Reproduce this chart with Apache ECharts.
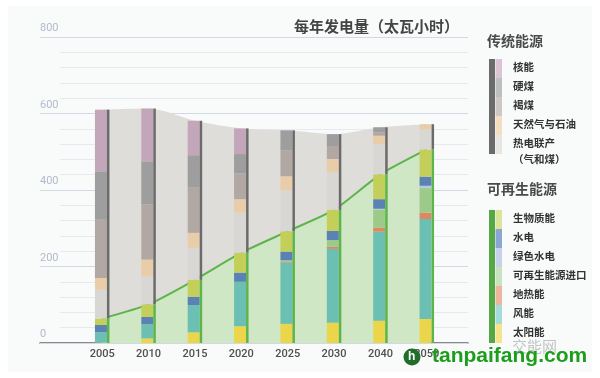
<!DOCTYPE html>
<html>
<head>
<meta charset="utf-8">
<script src="https://cdn.jsdelivr.net/npm/echarts@6/dist/echarts.min.js"></script>
<style>html,body{margin:0;padding:0;background:#fff}#c{width:600px;height:378px}</style>
</head>
<body>
<div id="c"></div>
<script>
// ---- data (TWh) ----
const years = ['2005', '2010', '2015', '2020', '2025', '2030', '2040', '2050'];
// traditional sources
const nuclear    = [161, 138, 90, 67, 0, 0, 0, 0];
const hardCoal   = [127, 113, 85, 50, 52, 33, 13, 0];
const lignite    = [152, 144, 118, 68, 68, 32, 9, 0];
const gasOil     = [31, 43, 39, 35, 37, 35, 22, 14];
const chp        = [75, 74, 84, 105, 107, 98, 79, 52];
// renewable sources
const biomass    = [17, 33, 44, 52, 53, 55, 65, 71];
const hydro      = [19, 19, 22, 24, 23, 24, 25, 24];
const greenHydro = [0, 0, 0, 0, 1, 0, 2, 6];
const imports    = [0, 0, 0, 0, 3, 17, 47, 64];
const geothermal = [0, 0, 0, 0, 2, 6, 11, 17];
const wind       = [27, 37, 71, 116, 160, 193, 233, 261];
const solar      = [1, 12, 28, 44, 50, 53, 58, 63];
// axis ticks
const yTicks = [0, 200, 400, 600, 800];
const titleText = '每年发电量（太瓦小时）';
const tradTitle = '传统能源';
const renewTitle = '可再生能源';

const tradNames = ['核能', '硬煤', '褐煤', '天然气与石油', '热电联产'];
const renewNames = ['生物质能', '水电', '绿色水电', '可再生能源进口', '地热能', '风能', '太阳能'];

// ---- styles ----
const tradColors = ['#c4a6bb', '#9e9e9e', '#b1a8a3', '#e9cca8', '#d9d7d4'];
const tradLegendColors = ['#dbc5d5', '#bebebe', '#cdc8c4', '#f4ddc1', '#e8e6e3'];
const renewColors = ['#c3cf58', '#5b82b4', '#b8c8e2', '#9ccb89', '#d98a62', '#6bbfb3', '#ebd64b'];
const renewLegendColors = ['#dde39b', '#8ba6d3', '#c6d2ea', '#c9e3c0', '#ecb59e', '#a5dbd9', '#f5e48d'];

const tradData = [nuclear, hardCoal, lignite, gasOil, chp];
const renewData = [biomass, hydro, greenHydro, imports, geothermal, wind, solar];

const renewTotal = years.map((_, i) => renewData.reduce((s, a) => s + a[i], 0));
const tradTotal = years.map((_, i) => tradData.reduce((s, a) => s + a[i], 0));

const font = '"Noto Sans CJK SC", "Noto Sans", sans-serif';

// stacked bar segments, bottom to top
const series = [];
series.push({
  type: 'line', name: 'renewArea', data: renewTotal, stack: 'area', smooth: 0.2,
  symbol: 'none', z: 2,
  lineStyle: { color: '#5db44b', width: 2 },
  areaStyle: { color: '#cfe7c5', opacity: 1 }
});
series.push({
  type: 'line', name: 'tradArea', data: tradTotal, stack: 'area', smooth: 0.3,
  symbol: 'none', z: 1,
  lineStyle: { width: 0 },
  areaStyle: { color: '#dfddda', opacity: 1 }
});
const segs = [];
for (let k = renewData.length - 1; k >= 0; k--) segs.push([renewData[k], renewColors[k]]);
for (let k = tradData.length - 1; k >= 0; k--) segs.push([tradData[k], tradColors[k]]);
segs.forEach(([d, c]) => series.push({
  type: 'bar', stack: 'seg', barWidth: 12, barGap: '0%', data: d, z: 5,
  itemStyle: { color: c }, silent: true
}));
series.push({ type: 'bar', stack: 'tot', barWidth: 2.5, barGap: '0%', data: renewTotal, z: 5, itemStyle: { color: '#5db44b' } });
series.push({ type: 'bar', stack: 'tot', barWidth: 2.5, barGap: '0%', data: tradTotal, z: 5, itemStyle: { color: '#6b6b6b' } });

// ---- legend graphics ----
const g = [];
g.push({ type: 'rect', shape: { x: 8, y: 6, width: 584, height: 366 }, style: { fill: '#f9fafa' }, z: -10 });
function legendBlock(title, titleY, top, names, colors, barColor, itemH) {
  g.push({ type: 'text', left: 487, top: titleY, style: { text: title, font: 'bold 14px ' + font, fill: '#4a4a4a' } });
  const h = itemH * names.length;
  g.push({ type: 'rect', shape: { x: 489, y: top, width: 6, height: h }, style: { fill: barColor } });
  names.forEach((n, i) => {
    g.push({ type: 'rect', shape: { x: 495.5, y: top + i * itemH, width: 6.5, height: itemH }, style: { fill: colors[i] } });
    g.push({ type: 'text', x: 513, y: top + i * itemH + itemH / 2 - 1, style: { text: n, font: 'bold 10.5px ' + font, fill: '#333', verticalAlign: 'middle' } });
  });
}
legendBlock(tradTitle, 34, 59, tradNames, tradLegendColors, '#6b6b6b', 19);
g.push({ type: 'text', x: 513, y: 159, style: { text: '（气和煤）', font: 'bold 10.5px ' + font, fill: '#333', verticalAlign: 'middle' } });
legendBlock(renewTitle, 182, 210, renewNames, renewLegendColors, '#55a845', 19);

// watermark
g.push({ type: 'text', x: 512, y: 346, style: { text: '交能网', font: '15px ' + font, fill: 'rgba(150,150,150,0.55)', verticalAlign: 'middle' }, z: 20 });
g.push({ type: 'circle', shape: { cx: 412, cy: 357, r: 8.5 }, style: { fill: '#1f6e2a' }, z: 20 });
g.push({ type: 'text', x: 408, y: 357, style: { text: 'h', font: 'bold 12px "Liberation Sans"', fill: '#fff', verticalAlign: 'middle' }, z: 21 });
g.push({ type: 'text', x: 432, y: 356, style: { text: 'tanpaifang.com', font: 'bold 21px "Liberation Sans", Arial, sans-serif', fill: '#1c9e1c', verticalAlign: 'middle' }, z: 20 });

const chart = echarts.init(document.getElementById('c'), null, { renderer: 'canvas' });
chart.setOption({
  backgroundColor: '#ffffff',
  animation: false,
  title: {
    text: titleText, left: 289, top: 14,
    textStyle: { fontSize: 15, fontWeight: 'bold', color: '#444', fontFamily: font }
  },
  grid: [
    { left: 79, right: 150, top: 37, bottom: 35 },
    { left: 40, right: 132, top: 37, bottom: 35 },
    { left: 60, right: 132, top: 37, bottom: 35 }
  ],
  xAxis: [
    { type: 'category', gridIndex: 0, data: years, boundaryGap: true,
      axisLine: { show: false }, axisTick: { show: false },
      axisLabel: { color: '#4f4f4f', fontSize: 11, margin: 6, fontFamily: 'Roboto, sans-serif', fontWeight: 500 } },
    { type: 'value', gridIndex: 1, min: 0, max: 1, show: true,
      axisLine: { show: true, onZero: false, lineStyle: { color: '#666', width: 1.5 } },
      axisTick: { show: false }, axisLabel: { show: false }, splitLine: { show: false } },
    { type: 'value', gridIndex: 2, min: 0, max: 1, show: false }
  ],
  yAxis: [
    { type: 'value', gridIndex: 0, min: 0, max: 800, show: false },
    { type: 'value', gridIndex: 1, min: yTicks[0], max: yTicks[yTicks.length - 1], interval: 200,
      axisLine: { show: false }, axisTick: { show: false },
      splitLine: { lineStyle: { color: '#d3d8e5', width: 1 } },
      axisLabel: { inside: true, margin: 0, align: 'left', verticalAlign: 'bottom', padding: [0, 0, 3, 0],
        color: '#b2bacb', fontSize: 11, fontFamily: 'Roboto, sans-serif' }, z: 1 },
    { type: 'value', gridIndex: 2, min: 0, max: 800, interval: 40,
      axisLine: { show: false }, axisTick: { show: false }, axisLabel: { show: false },
      splitLine: { lineStyle: { color: '#e6e9f0', width: 1 } }, z: 0 }
  ],
  series: series,
  graphic: g
});
</script>
</body>
</html>
